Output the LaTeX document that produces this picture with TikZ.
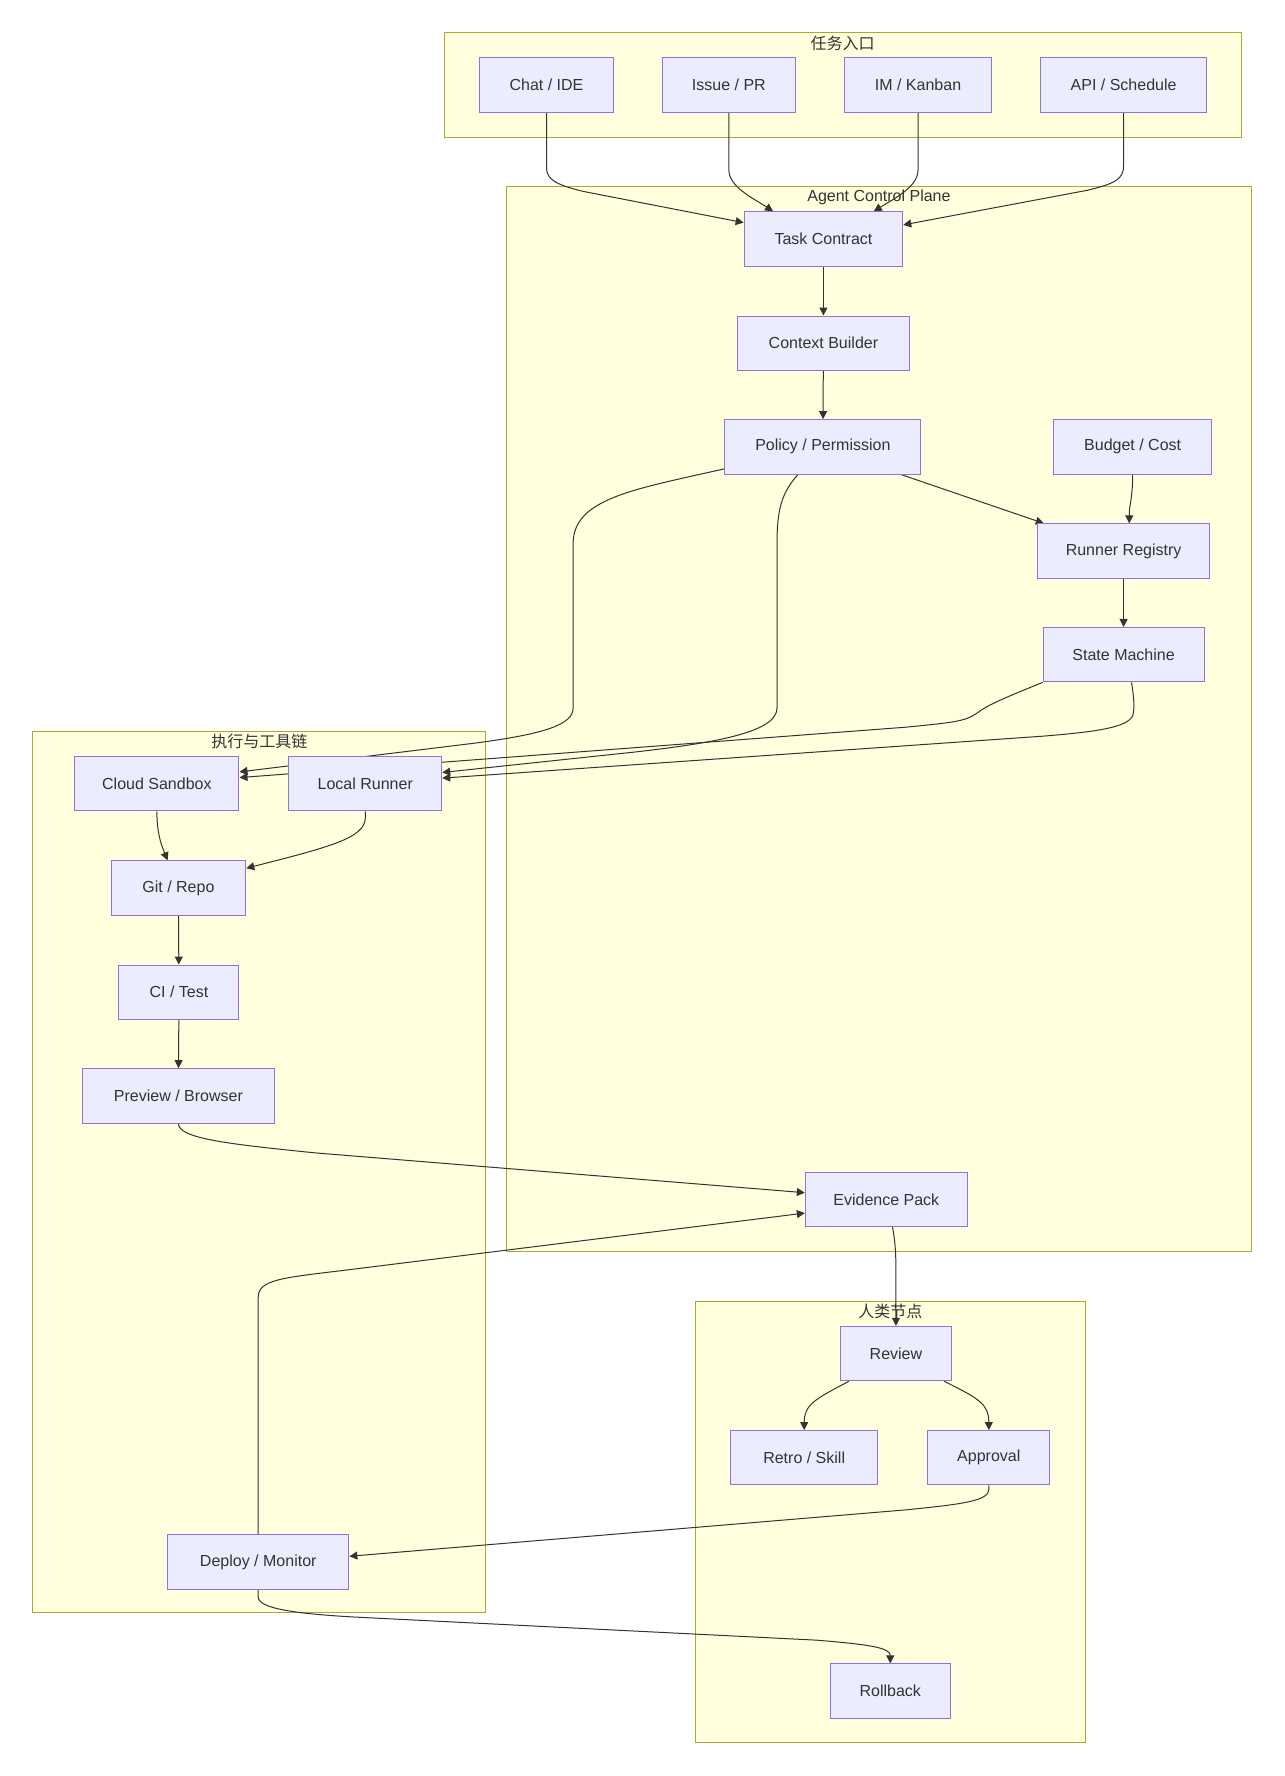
\documentclass[tikz,border=0pt]{standalone}
\usepackage{fontspec}
\setmainfont{Liberation Sans}
\newfontfamily\cjk{Noto Sans CJK SC}
\usetikzlibrary{arrows.meta,calc}
\pgfdeclarelayer{bg}
\pgfdeclarelayer{edgelayer}
\pgfsetlayers{bg,edgelayer,main}
\definecolor{nodefill}{HTML}{ECECFF}
\definecolor{nodeline}{HTML}{9370DB}
\definecolor{clfill}{HTML}{FFFFDE}
\definecolor{clline}{HTML}{AAAA33}
\definecolor{txt}{HTML}{333333}
\tikzset{
  box/.style={draw=nodeline, fill=nodefill, line width=1pt, minimum height=54.35pt, inner sep=0pt, text=txt, font=\fontsize{16}{19}\selectfont},
  bw/.style={minimum width=#1*1.1323pt},
  edge/.style={draw=txt, line width=1pt, -{Triangle[length=8pt,width=8pt]}},
  cluster/.style={draw=clline, fill=clfill, line width=1pt},
  ctitle/.style={text=txt, font=\fontsize{16}{19}\selectfont, inner sep=0pt},
}
\begin{document}
\begin{tikzpicture}[x=1.1323pt,y=-1.1323pt]
\useasboundingbox (0,0) rectangle (1134,1568);
\begin{pgfonlayer}{bg}
  \fill[white] (0,0) rectangle (1134,1568);
  \draw[cluster] (392,29) rectangle (1096,121);
  \draw[cluster] (447,165) rectangle (1105,1105);
  \draw[cluster] (29,646) rectangle (429,1424);
  \draw[cluster] (614,1149) rectangle (958,1538);
  \node[ctitle] (t1) at (744,38) {\cjk 任务入口};
  \node[ctitle] (t2) at (776,174) {Agent Control Plane};
  \node[ctitle] (t3) at (229,655) {\cjk 执行与工具链};
  \node[ctitle] (t4) at (786,1158) {\cjk 人类节点};
\end{pgfonlayer}

% nodes
\node[box,bw=119] (chat) at (482.5,75) {Chat / IDE};
\node[box,bw=117] (issue) at (643.5,75) {Issue / PR};
\node[box,bw=129] (im) at (810.5,75) {IM / Kanban};
\node[box,bw=146] (api) at (992,75) {API / Schedule};

\node[box,bw=140] (task) at (727,211) {Task Contract};
\node[box,bw=152] (context) at (727,303) {Context Builder};
\node[box,bw=173] (policy) at (726.5,394.5) {Policy / Permission};
\node[box,bw=140] (budget) at (1000,394.5) {Budget / Cost};
\node[box,bw=152] (runner) at (992,486.5) {Runner Registry};
\node[box,bw=142] (state) at (992,578) {State Machine};
\node[box,bw=143] (evidence) at (782.5,1059) {Evidence Pack};

\node[box,bw=145] (cloud) at (138.5,692) {Cloud Sandbox};
\node[box,bw=135] (local) at (322.5,692) {Local Runner};
\node[box,bw=119] (git) at (157.5,784) {Git / Repo};
\node[box,bw=106] (ci) at (158,876) {CI / Test};
\node[box,bw=169] (preview) at (157.5,967.5) {Preview / Browser};
\node[box,bw=160] (deploy) at (228,1379) {Deploy / Monitor};

\node[box,bw=98] (review) at (791,1195) {Review};
\node[box,bw=130] (retro) at (710,1287) {Retro / Skill};
\node[box,bw=108] (approval) at (873,1287) {Approval};
\node[box,bw=106] (rollback) at (786,1493) {Rollback};

\begin{pgfonlayer}{edgelayer}
  % entries -> task contract
  \draw[edge] (chat.south) -- (482.5,148) .. controls (482.5,158) and (490,163) .. (515,169) -- ($(task.north west)+(0,10)$);
  \draw[edge] (issue.south) -- (643.5,150) .. controls (643.5,165) and (665,175) .. ($(task.north west)+(26,0)$);
  \draw[edge] (im.south) -- (810.5,150) .. controls (810.5,165) and (790,175) .. ($(task.north east)+(-26,0)$);
  \draw[edge] (api.south) -- (992,146) .. controls (992,158) and (985,162) .. (960,168) -- ($(task.north east)+(0,12)$);
  % control plane
  \draw[edge] (task) -- (context);
  \draw[edge] (context) -- (policy);
  \draw[edge] ($(policy.south east)+(-18,0)$) -- ($(runner.north west)+(6,0)$);
  \draw[edge] (budget.south) .. controls (1000,440) and (997,445) .. ($(runner.north)+(5,0)$);
  \draw[edge] (runner) -- (state);
  % to runners
  \draw[edge] ($(policy.south west)+(0,-5)$) .. controls (560,432) and (506,440) .. (506,480) -- (506,625) .. controls (506,640) and (480,648) .. (420,656) -- ($(cloud.east)+(0,-10.5)$);
  \draw[edge] ($(policy.south west)+(65,0)$) .. controls (690,435) and (686,450) .. (686,480) -- (686,625) .. controls (686,645) and (640,655) .. (560,664) -- ($(local.east)+(0,-10)$);
  \draw[edge] (state.south west) .. controls (890,615) and (872,622) .. (862,630) .. controls (852,637) and (840,638) .. (800,642) -- ($(cloud.east)+(0,-5.5)$);
  \draw[edge] ($(state.south)+(7,0)$) .. controls (1001,615) and (1002,625) .. (1000,632) .. controls (995,642) and (970,646) .. (920,650) -- ($(local.east)+(0,-5)$);
  % toolchain
  \draw[edge] (cloud.south) .. controls (138.5,735) and (142,745) .. ($(git.north)+(-9.5,0)$);
  \draw[edge] (local.south) -- (322.5,722) .. controls (322.5,740) and (290,748) .. ($(git.north east)+(0,7)$);
  \draw[edge] (git) -- (ci);
  \draw[edge] (ci) -- (preview);
  \draw[edge] (preview.south) .. controls (157.5,1005) and (200,1010) .. (280,1018) -- ($(evidence.west)+(0,-6)$);
  \draw[edge] (deploy.north) -- (228,1145) .. controls (228,1130) and (250,1128) .. (300,1122) -- ($(evidence.west)+(0,12)$);
  % human
  \draw[edge] ($(evidence.south)+(5.5,0)$) .. controls (791,1100) and (791,1110) .. (791,1130) -- (review.north);
  \draw[edge] ($(review.south west)+(8,0)$) .. controls (720,1235) and (710,1240) .. (retro.north);
  \draw[edge] ($(review.south east)+(-7,0)$) .. controls (865,1235) and (873,1240) .. (approval.north);
  \draw[edge] (approval.south) -- (873,1315) .. controls (873,1325) and (850,1328) .. (800,1333) -- ($(deploy.east)+(0,-5)$);
  \draw[edge] (deploy.south) -- (228,1410) .. controls (228,1420) and (260,1425) .. (320,1428) -- (720,1448) .. controls (770,1452) and (786,1455) .. (rollback.north);
\end{pgfonlayer}
\end{tikzpicture}
\end{document}
